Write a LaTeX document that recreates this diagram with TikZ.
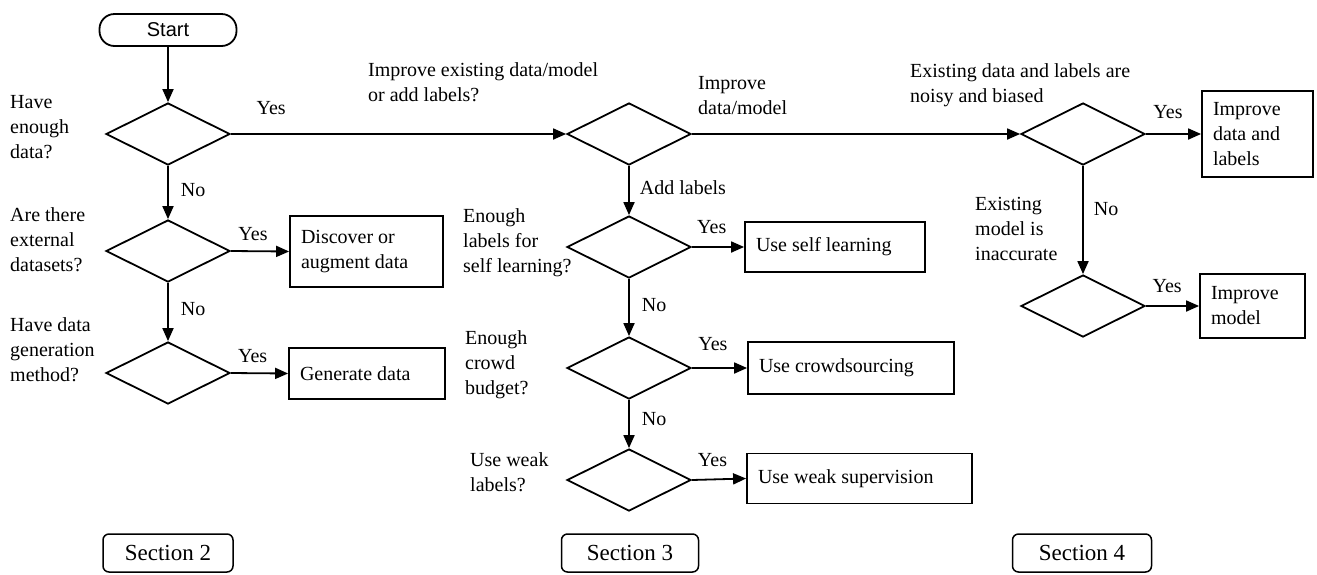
\documentclass[tikz,border=0pt]{standalone}
\usepackage{fontspec}
\setmainfont{Liberation Serif}
\newfontfamily\startfont{Liberation Sans}
\usetikzlibrary{shapes.geometric,arrows.meta,positioning}
\tikzset{
  dec/.style={draw,line width=1.8pt,diamond,aspect=2,minimum width=124pt,minimum height=62pt,inner sep=0pt},
  actbox/.style={draw,line width=1.8pt,rectangle,inner xsep=11pt,inner ysep=0pt,align=flush left,anchor=center},
  secbox/.style={draw,line width=1.5pt,rounded corners=6pt,minimum height=38pt,inner sep=0pt,font=\fontsize{23}{27}\selectfont},
  lbl/.style={align=left,anchor=north west,inner sep=0pt},
  conn/.style={line width=1.8pt,-{Triangle[length=13pt,width=11pt]}},
  plain/.style={line width=1.8pt}
}
\begin{document}
\begin{tikzpicture}[x=1pt,y=-1pt,font=\fontsize{20}{25}\selectfont]
\useasboundingbox (0,0) rectangle (1317,574);
% Section 2 column
\node[draw,line width=1.8pt,rounded corners=15pt,minimum width=137pt,minimum height=32pt,inner sep=0pt,font=\startfont\fontsize{20}{24}\selectfont] (start) at (168,30) {Start};
\node[dec] (d1) at (168,134) {};
\node[dec] (d3) at (168,251) {};
\node[dec] (d4) at (168,373) {};
\node[actbox,minimum width=153pt,minimum height=71pt,text width=131pt] (b1) at (366.5,251.5) {Discover or\\augment data};
\node[actbox,minimum width=156pt,minimum height=51pt,text width=134pt] (b2) at (367,373.5) {Generate data};
\node[lbl] (t1) at (10,95) {Have\\enough\\data?};
\node[lbl] (t3) at (10,207) {Are there\\external\\datasets?};
\node[lbl] (t4) at (10,317) {Have data\\generation\\method?};
% Section 3 column
\node[dec] (d2) at (629,134) {};
\node[dec] (d6) at (629,247) {};
\node[dec] (d7) at (629,368) {};
\node[dec] (d8) at (629,480) {};
\node[actbox,minimum width=180pt,minimum height=50pt,text width=158pt] (b3) at (835,247) {Use self learning};
\node[actbox,minimum width=206pt,minimum height=52pt,text width=184pt] (b4) at (851,368) {Use crowdsourcing};
\node[actbox,minimum width=225pt,minimum height=50pt,text width=203pt] (b5) at (859.5,478.5) {Use weak supervision};
\node[lbl] (t2) at (368,62) {Improve existing data/model\\or add labels?};
\node[lbl] (t2b) at (698,76) {Improve\\data/model};
\node[lbl] (t6) at (463,208) {Enough\\labels for\\self learning?};
\node[lbl] (t7) at (465,330) {Enough\\crowd\\budget?};
\node[lbl] (t8) at (470,452) {Use weak\\labels?};
% Section 4 column
\node[dec] (d5) at (1083,134) {};
\node[dec] (d9) at (1083,306) {};
\node[actbox,minimum width=111pt,minimum height=86pt,text width=89pt,inner xsep=10pt] (b6) at (1257.5,134) {Improve\\data and\\labels};
\node[actbox,minimum width=105pt,minimum height=64pt,text width=83pt,inner xsep=10pt] (b7) at (1252.5,306) {Improve\\model};
\node[lbl] (t5) at (910,63) {Existing data and labels are\\noisy and biased};
\node[lbl] (t9) at (975,197) {Existing\\model is\\inaccurate};
% Section boxes
\node[secbox,minimum width=130pt] (s2) at (168,553) {Section 2};
\node[secbox,minimum width=137pt] (s3) at (630,553) {Section 3};
\node[secbox,minimum width=139pt] (s4) at (1082,553) {Section 4};
% connectors
\draw[conn] (start) -- (d1.north);
\draw[conn] (d1.east) -- node[pos=0.12,above=18pt,inner sep=0pt] {Yes} (d2.west);
\draw[conn] (d1.south) -- node[right=12pt,pos=0.45,inner sep=0pt] {No} (d3.north);
\draw[conn] (d3.east) -- node[pos=0.38,above=10pt,inner sep=0pt] {Yes} (b1.west);
\draw[conn] (d3.south) -- node[right=12pt,pos=0.45,inner sep=0pt] {No} (d4.north);
\draw[conn] (d4.east) -- node[pos=0.38,above=10pt,inner sep=0pt] {Yes} (b2.west);
\draw[conn] (d2.east) -- (d5.west);
\draw[conn] (d2.south) -- node[right=10pt,pos=0.45,inner sep=0pt] {Add labels} (d6.north);
\draw[conn] (d6.east) -- node[pos=0.38,above=12pt,inner sep=0pt] {Yes} (b3.west);
\draw[conn] (d6.south) -- node[right=12pt,pos=0.45,inner sep=0pt] {No} (d7.north);
\draw[conn] (d7.east) -- node[pos=0.38,above=16pt,inner sep=0pt] {Yes} (b4.west);
\draw[conn] (d7.south) -- node[right=12pt,pos=0.4,inner sep=0pt] {No} (d8.north);
\draw[conn] (d8.east) -- node[pos=0.38,above=12pt,inner sep=0pt] {Yes} (b5.west);
\draw[conn] (d5.east) -- node[pos=0.4,above=14pt,inner sep=0pt] {Yes} (b6.west);
\draw[conn] (d5.south) -- node[right=10pt,pos=0.4,inner sep=0pt] {No} (d9.north);
\draw[conn] (d9.east) -- node[pos=0.4,above=12pt,inner sep=0pt] {Yes} (b7.west);
\end{tikzpicture}
\end{document}
